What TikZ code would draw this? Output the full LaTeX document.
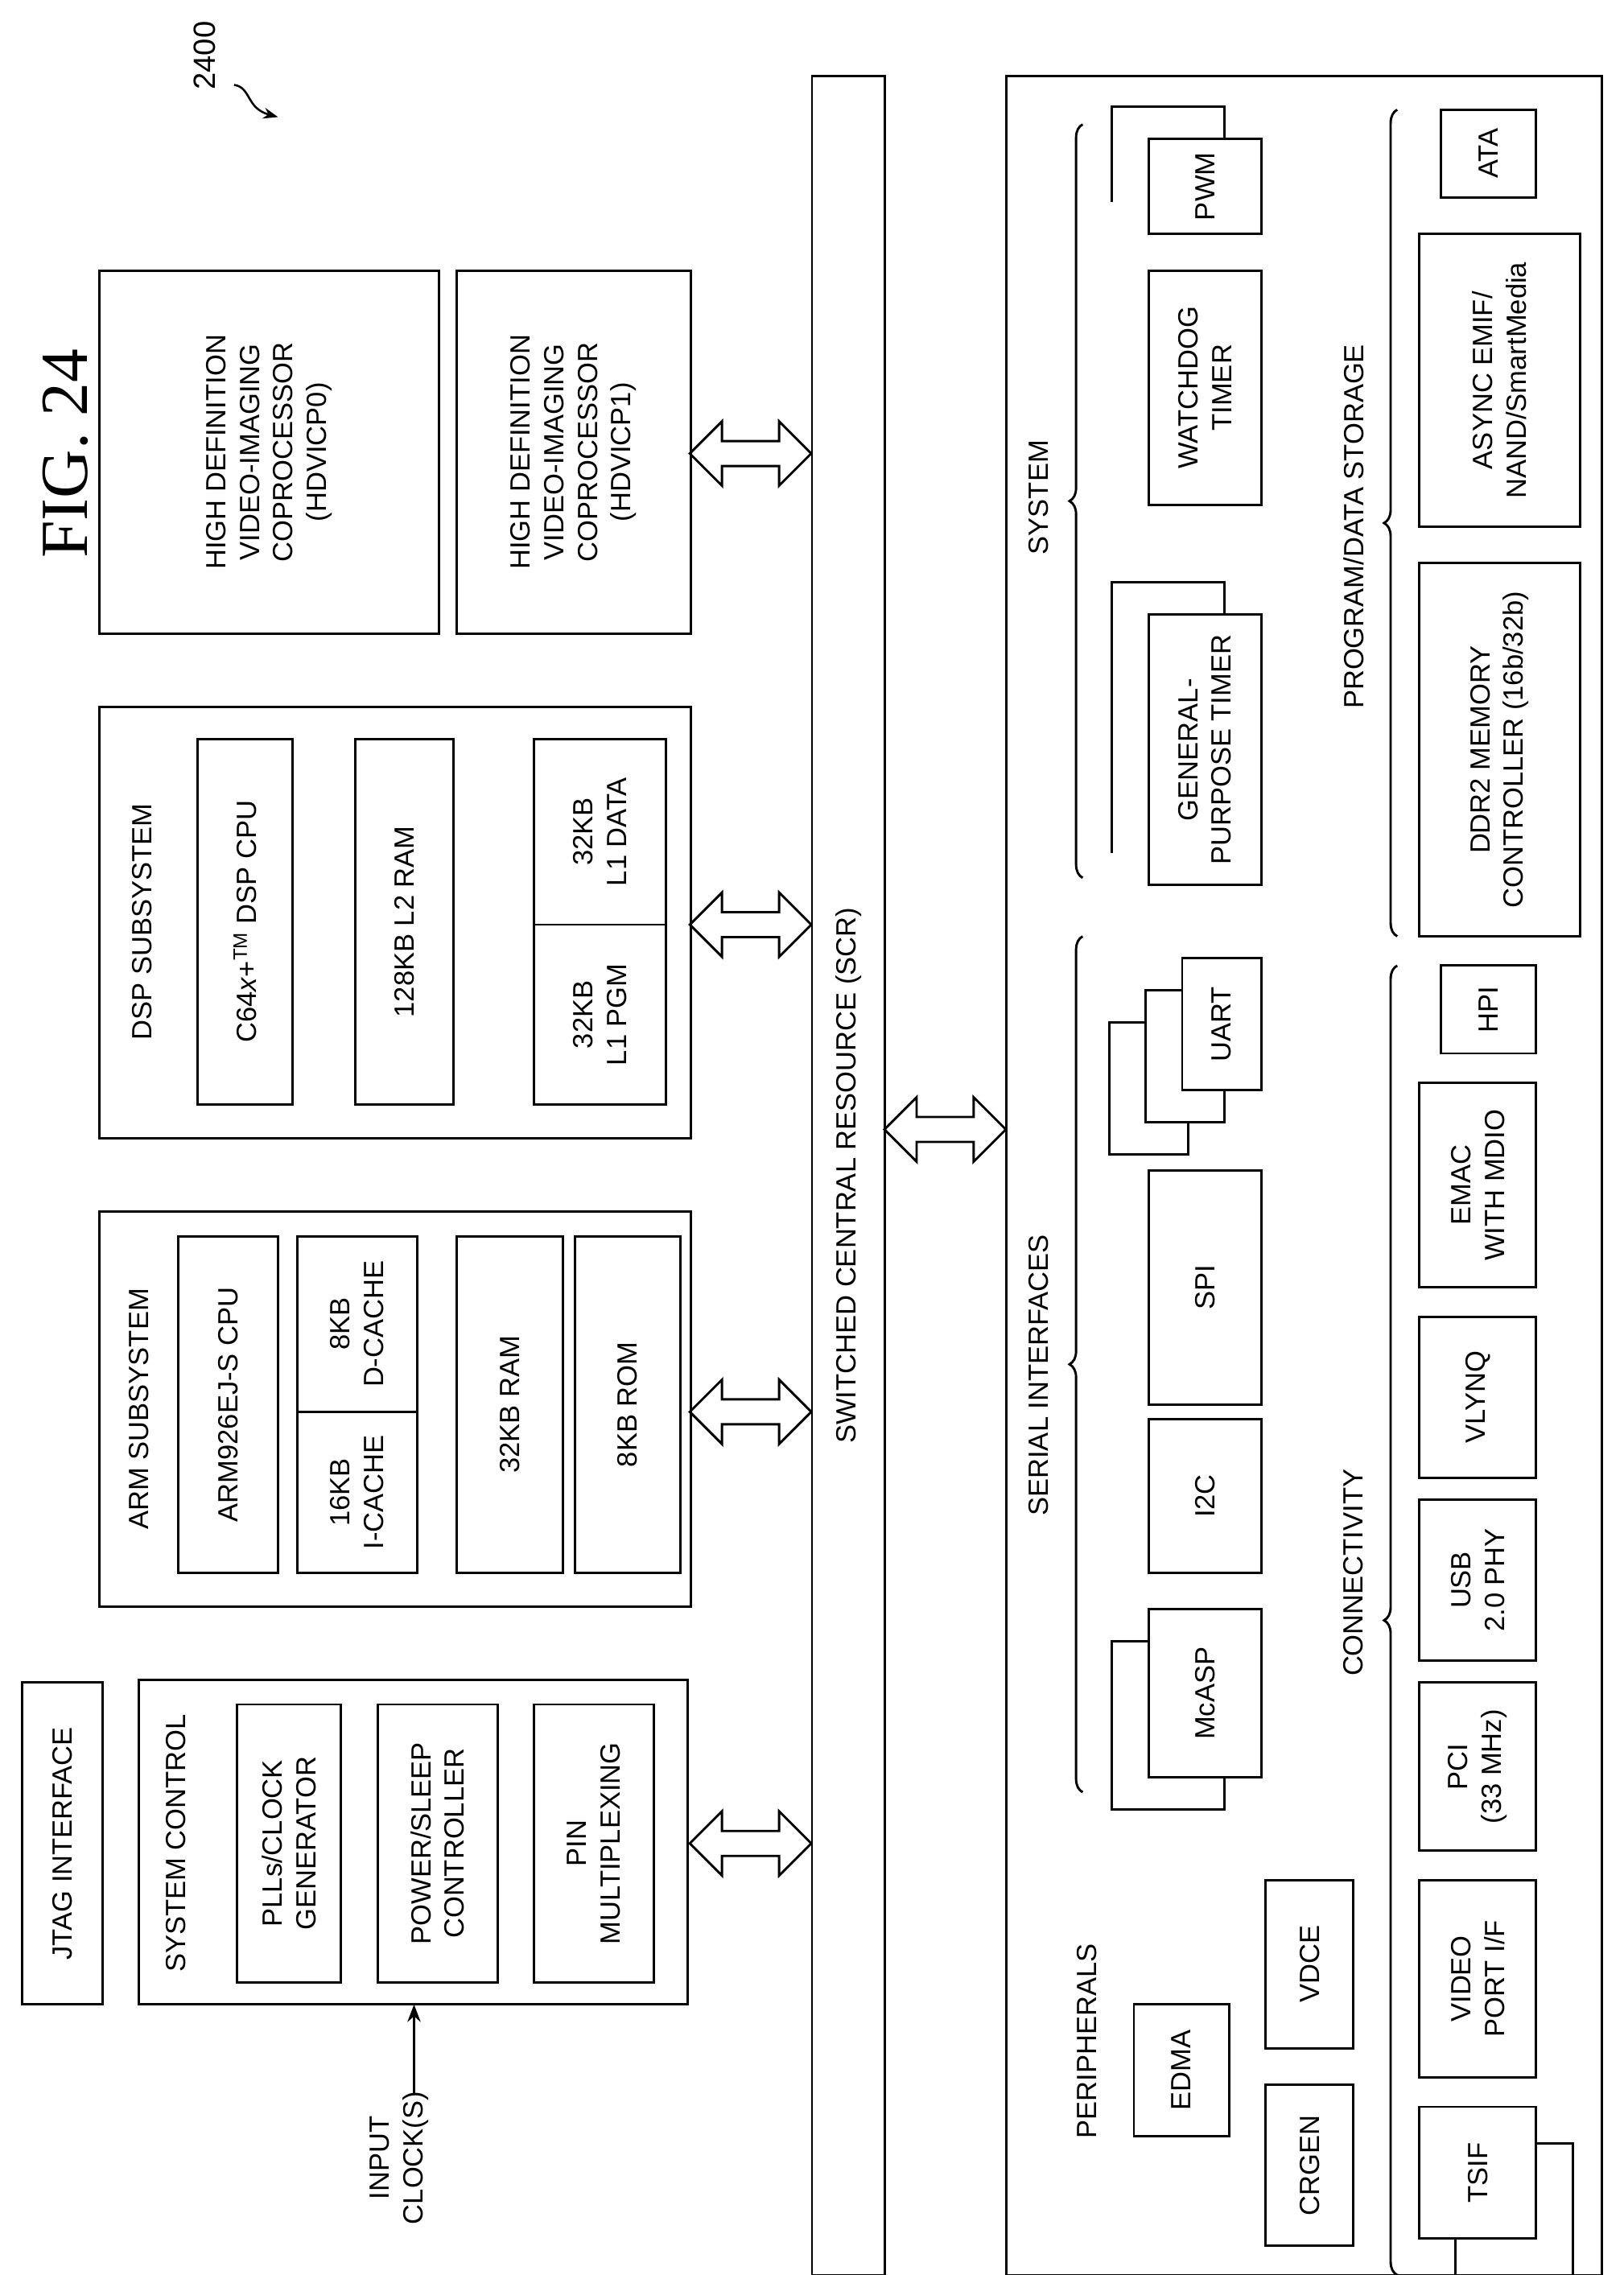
\documentclass[tikz,border=0pt]{standalone}
\usepackage{fontspec}
\setmainfont{Liberation Sans}
\newfontfamily\figfont{Liberation Serif}
\usetikzlibrary{positioning,arrows.meta,shapes.arrows,decorations.pathreplacing}
\tikzset{
  blk/.style={draw, line width=1.6pt, rotate=90, align=center, inner sep=0pt,
    font=\fontsize{19}{23}\selectfont},
  lbl/.style={rotate=90, align=center, inner sep=0pt, font=\fontsize{19}{23}\selectfont},
  link/.style={draw, line width=1.6pt, shape=double arrow, minimum width=44,
    double arrow head extend=6, inner sep=3pt},
  grp/.style={line width=1.6pt, decorate, decoration={brace, amplitude=9}},
  back/.style={line width=1.6pt}
}
% block from (x1,y1) to (x2,y2)
\newcommand{\blk}[6]{%
  \node[blk, minimum width={#5-#3}, minimum height={#4-#2}] (#1)
    at ({(#2+#4)/2},{(#3+#5)/2}) {#6};}
% stacked back box, up and left
\newcommand{\stk}[4]{%
  \draw[back] ({#1-25},{#4-22}) -- ({#1-25},{#2-22}) -- ({#3-25},{#2-22}) -- ({#3-25},#2);}
% stacked back box, down and left
\newcommand{\stkd}[4]{%
  \draw[back] (#1,{#2+22}) -- ({#1-25},{#2+22}) -- ({#1-25},{#4+22}) -- ({#3-25},{#4+22}) -- ({#3-25},#4);}
\begin{document}
\begin{tikzpicture}[x=1pt,y=-1pt]
\useasboundingbox (0,0) rectangle (1110,1555);

\node[rotate=90, font=\figfont\fontsize{46}{50}\selectfont] (fig) at (45,310) {FIG. 24};
\node[rotate=90, font=\fontsize{21}{24}\selectfont] (ref) at (140,38) {2400};
\draw[-{Stealth[length=10pt]}, line width=1.4pt] (160,58) .. controls (172,60) and (168,74) .. (190,80);

% left column
\blk{jtag}{15}{1150}{70}{1370}{JTAG INTERFACE}
\blk{sysctl}{95}{1148}{470}{1370}{}
\node[lbl] (sysctlt) at (120,1260) {SYSTEM CONTROL};
\blk{pll}{162}{1165}{233}{1355}{PLLs/CLOCK\\GENERATOR}
\blk{pwr}{258}{1165}{340}{1355}{POWER/SLEEP\\CONTROLLER}
\blk{pin}{365}{1165}{447}{1355}{PIN\\MULTIPLEXING}
\node[lbl] (clk) at (273,1475) {INPUT\\CLOCK(S)};
\coordinate (clkin) at (283,1432);
\draw[-{Stealth[length=12pt]}, line width=1.4pt] (clkin) -- (283,1370);

\blk{arm}{68}{828}{472}{1098}{}
\node[lbl] (armt) at (95,963) {ARM SUBSYSTEM};
\blk{armcpu}{122}{845}{190}{1075}{ARM926EJ-S CPU}
\blk{icache}{203}{965}{285}{1075}{16KB\\I-CACHE}
\blk{dcache}{203}{845}{285}{965}{8KB\\D-CACHE}
\blk{aram}{312}{845}{385}{1075}{32KB RAM}
\blk{arom}{393}{845}{465}{1075}{8KB ROM}

\blk{dsp}{68}{483}{472}{778}{}
\node[lbl] (dspt) at (97,630) {DSP SUBSYSTEM};
\blk{dspcpu}{135}{505}{200}{755}{C64\textit{x}+\textsuperscript{TM} DSP CPU}
\blk{ltwo}{243}{505}{310}{755}{128KB L2 RAM}
\blk{lpgm}{365}{632}{455}{755}{32KB\\L1 PGM}
\blk{ldata}{365}{505}{455}{632}{32KB\\L1 DATA}

\blk{hd0}{68}{185}{300}{433}{HIGH DEFINITION\\VIDEO-IMAGING\\COPROCESSOR\\(HDVICP0)}
\blk{hd1}{312}{185}{472}{433}{HIGH DEFINITION\\VIDEO-IMAGING\\COPROCESSOR\\(HDVICP1)}

% switched central resource
\blk{scr}{555}{52}{605}{1555}{SWITCHED CENTRAL RESOURCE (SCR)}

\node[link, minimum height=83] (a1) at (513,310) {};
\node[link, minimum height=83] (a2) at (513,632) {};
\node[link, minimum height=83] (a3) at (513,965) {};
\node[link, minimum height=83] (a4) at (513,1260) {};
\node[link, minimum height=83] (a5) at (646,772) {};

% peripherals
\blk{peri}{688}{52}{1095}{1555}{}

\draw[grp] (740,600) -- (740,85);
\node[lbl] (syst) at (710,340) {SYSTEM};
\stk{785}{95}{862}{160}
\blk{pwm}{785}{95}{862}{160}{PWM}
\blk{wdt}{785}{185}{862}{345}{WATCHDOG\\TIMER}
\stk{785}{420}{862}{605}
\blk{gpt}{785}{420}{862}{605}{GENERAL-\\PURPOSE TIMER}

\draw[grp] (740,1225) -- (740,640);
\node[lbl] (sert) at (710,940) {SERIAL INTERFACES};
\stkd{783}{677}{837}{767}
\stkd{808}{655}{862}{745}
\blk{uart}{808}{655}{862}{745}{UART}
\blk{spi}{785}{800}{862}{960}{SPI}
\blk{itc}{785}{970}{862}{1075}{I2C}
\stkd{785}{1100}{862}{1215}
\blk{mcasp}{785}{1100}{862}{1215}{McASP}

\draw[grp] (955,640) -- (955,75);
\node[lbl] (stor) at (925,360) {PROGRAM/DATA STORAGE};
\blk{ata}{985}{75}{1050}{135}{ATA}
\blk{emif}{970}{160}{1080}{360}{ASYNC EMIF/\\NAND/SmartMedia}
\blk{ddr}{970}{385}{1080}{640}{DDR2 MEMORY\\CONTROLLER (16b/32b)}

\draw[grp] (955,1555) -- (955,660);
\node[lbl] (conn) at (925,1075) {CONNECTIVITY};
\blk{hpi}{985}{660}{1050}{720}{HPI}
\blk{emac}{970}{740}{1050}{880}{EMAC\\WITH MDIO}
\blk{vlynq}{970}{900}{1050}{1010}{VLYNQ}
\blk{usb}{970}{1025}{1050}{1135}{USB\\2.0 PHY}
\blk{pci}{970}{1150}{1050}{1265}{PCI\\(33 MHz)}
\blk{vport}{970}{1285}{1050}{1420}{VIDEO\\PORT I/F}
\draw[back] (1050,1465) -- (1075,1465) -- (1075,1555) -- (995,1555) -- (995,1530);
\blk{tsif}{970}{1440}{1050}{1530}{TSIF}

\blk{crgen}{865}{1425}{925}{1535}{CRGEN}
\blk{vdce}{865}{1285}{925}{1400}{VDCE}
\blk{edma}{775}{1370}{840}{1460}{EDMA}
\node[lbl] (perit) at (743,1395) {PERIPHERALS};
\end{tikzpicture}
\end{document}
